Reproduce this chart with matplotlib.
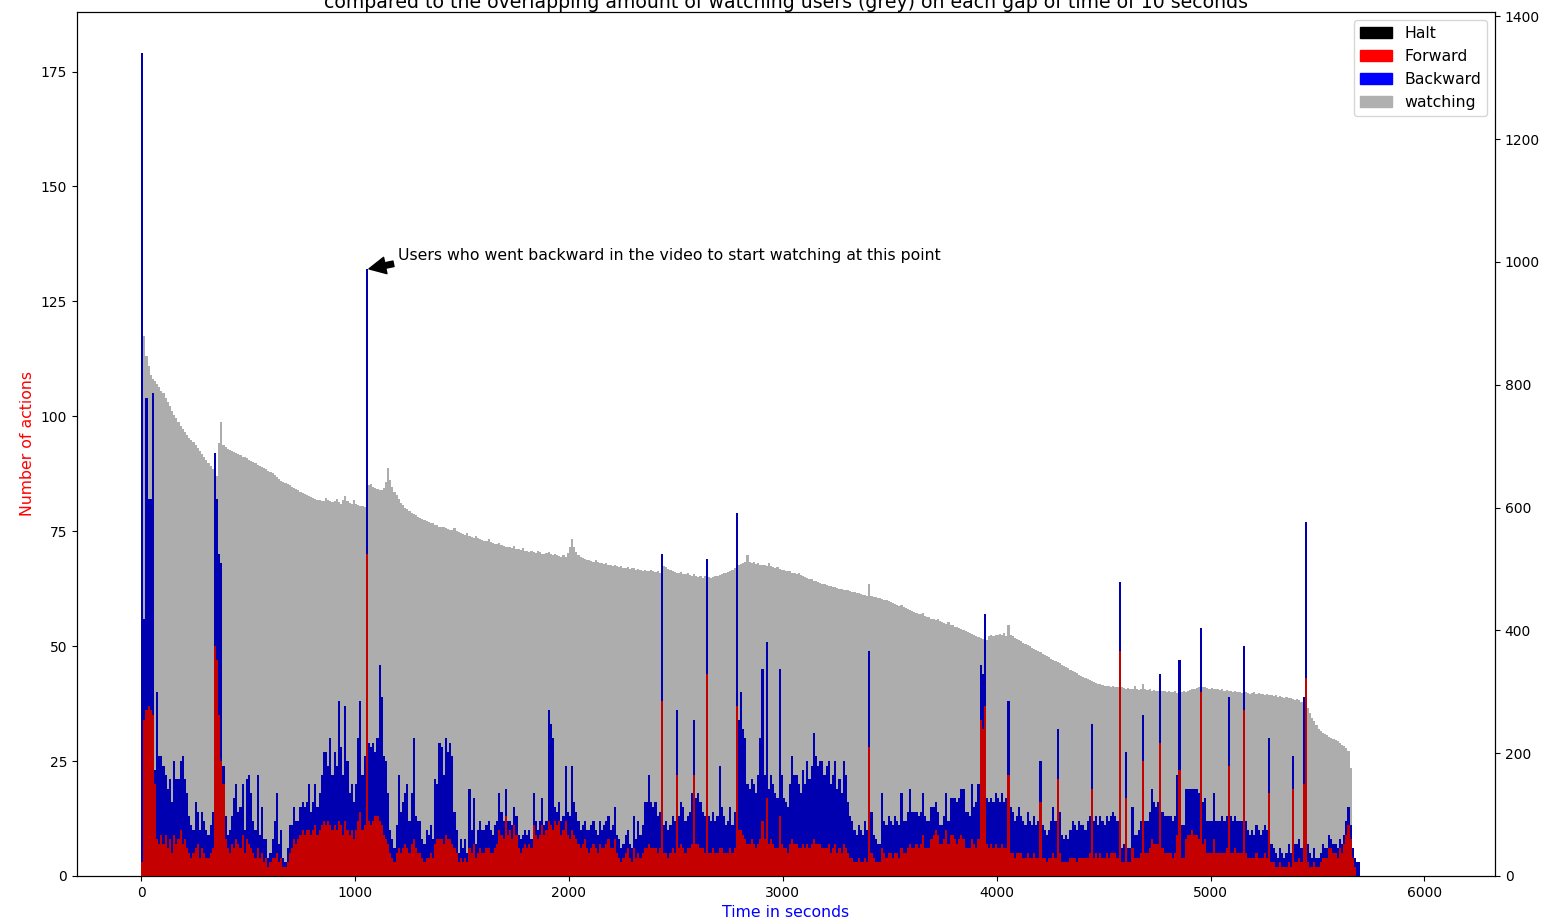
import numpy as np
import matplotlib.pyplot as plt
from matplotlib.patches import Patch

# one bar per 10 seconds of video
bin_width = 10

# forward jumps per 10 s bin (red, bottom of the stack)
forward = [
    3, 34, 36, 37, 36, 35, 20, 8, 7, 9,
    7, 9, 6, 8, 5, 9, 7, 8, 10, 7,
    8, 6, 5, 4, 5, 6, 7, 4, 6, 5,
    4, 4, 5, 6, 50, 47, 35, 25, 20, 8,
    6, 5, 7, 6, 8, 7, 6, 9, 5, 8,
    7, 6, 5, 4, 6, 4, 5, 3, 4, 2,
    3, 4, 4, 5, 3, 4, 2, 2, 3, 5,
    6, 8, 7, 8, 9, 10, 9, 10, 10, 9,
    10, 11, 9, 10, 11, 12, 11, 12, 11, 10,
    11, 10, 12, 11, 9, 12, 10, 9, 10, 8,
    10, 12, 14, 10, 11, 70, 12, 11, 12, 13,
    13, 12, 11, 9, 8, 7, 5, 4, 3, 5,
    6, 5, 6, 7, 6, 5, 7, 8, 6, 5,
    5, 4, 3, 4, 4, 5, 4, 7, 8, 8,
    8, 7, 9, 8, 8, 7, 6, 5, 3, 4,
    3, 4, 3, 6, 5, 7, 4, 5, 6, 5,
    5, 6, 6, 5, 5, 6, 7, 10, 9, 8,
    13, 9, 10, 8, 11, 9, 6, 5, 6, 7,
    6, 7, 6, 11, 9, 8, 9, 11, 9, 10,
    12, 11, 10, 12, 11, 12, 9, 10, 12, 9,
    8, 10, 9, 8, 7, 6, 7, 8, 6, 5,
    6, 7, 6, 5, 7, 6, 6, 7, 8, 6,
    6, 8, 5, 4, 3, 4, 5, 6, 4, 3,
    6, 4, 5, 4, 5, 6, 6, 7, 6, 6,
    6, 5, 6, 38, 5, 5, 4, 5, 6, 5,
    22, 6, 7, 6, 5, 6, 6, 7, 22, 7,
    7, 6, 6, 5, 44, 5, 5, 6, 5, 5,
    6, 6, 5, 5, 5, 6, 5, 6, 37, 10,
    10, 9, 8, 7, 7, 8, 7, 6, 7, 8,
    12, 8, 17, 7, 8, 7, 6, 6, 13, 7,
    6, 6, 5, 7, 8, 7, 7, 6, 6, 7,
    6, 7, 6, 7, 8, 7, 7, 7, 6, 6,
    6, 7, 5, 6, 7, 5, 6, 5, 7, 6,
    5, 4, 4, 3, 3, 4, 3, 3, 4, 3,
    28, 5, 4, 3, 3, 3, 6, 5, 4, 5,
    5, 4, 5, 5, 4, 6, 5, 5, 6, 7,
    6, 6, 7, 6, 7, 9, 6, 6, 6, 8,
    9, 10, 9, 7, 7, 8, 10, 7, 9, 9,
    8, 7, 8, 9, 8, 6, 6, 6, 8, 7,
    6, 8, 34, 32, 37, 7, 6, 7, 6, 7,
    6, 6, 7, 6, 6, 22, 5, 5, 4, 5,
    5, 5, 4, 4, 5, 4, 4, 5, 4, 4,
    16, 4, 4, 3, 4, 4, 5, 4, 21, 5,
    3, 3, 3, 3, 4, 4, 4, 3, 4, 4,
    4, 4, 4, 5, 19, 4, 5, 4, 5, 4,
    4, 5, 4, 5, 5, 5, 4, 49, 3, 3,
    17, 3, 3, 6, 4, 4, 4, 5, 25, 5,
    5, 6, 8, 7, 7, 7, 29, 6, 5, 5,
    5, 5, 4, 5, 9, 23, 4, 4, 8, 9,
    9, 10, 9, 9, 8, 40, 7, 8, 5, 5,
    5, 8, 5, 5, 5, 5, 5, 6, 24, 5,
    5, 6, 5, 5, 5, 36, 5, 4, 4, 4,
    4, 5, 4, 4, 4, 5, 4, 18, 3, 3,
    2, 2, 3, 2, 2, 2, 3, 2, 19, 3,
    3, 4, 3, 20, 43, 3, 2, 2, 3, 2,
    2, 3, 4, 4, 4, 6, 6, 5, 5, 4,
    6, 5, 7, 9, 11, 8, 4, 2, 0, 0,
]

# backward jumps per bin (blue, stacked on forward)
backward = [
    176, 22, 68, 45, 46, 70, 3, 32, 19, 17,
    17, 13, 13, 13, 11, 16, 14, 13, 15, 19,
    13, 12, 8, 7, 5, 10, 7, 6, 8, 7,
    6, 5, 6, 8, 42, 35, 35, 43, 4, 5,
    3, 5, 6, 11, 12, 7, 9, 11, 5, 13,
    15, 12, 7, 6, 16, 5, 10, 5, 4, 2,
    2, 4, 8, 13, 4, 6, 2, 1, 3, 6,
    5, 7, 5, 4, 6, 6, 6, 6, 10, 5,
    6, 9, 6, 8, 11, 15, 16, 12, 19, 12,
    16, 14, 26, 17, 13, 25, 15, 9, 10, 8,
    10, 18, 24, 12, 15, 62, 17, 17, 17, 14,
    17, 34, 28, 17, 17, 11, 5, 4, 3, 6,
    16, 9, 10, 11, 14, 7, 11, 22, 7, 7,
    7, 4, 4, 6, 5, 6, 4, 14, 12, 21,
    20, 15, 21, 19, 21, 19, 8, 5, 2, 4,
    3, 4, 2, 13, 5, 10, 3, 5, 6, 5,
    5, 5, 6, 5, 4, 5, 5, 8, 5, 4,
    6, 3, 2, 3, 4, 4, 3, 3, 3, 3,
    3, 3, 2, 7, 3, 2, 3, 6, 2, 2,
    24, 22, 20, 3, 3, 4, 3, 3, 12, 5,
    5, 14, 7, 6, 5, 4, 4, 4, 4, 5,
    5, 5, 4, 4, 5, 4, 5, 5, 5, 4,
    5, 7, 4, 4, 3, 3, 4, 4, 3, 3,
    7, 4, 7, 5, 6, 10, 10, 15, 10, 9,
    10, 8, 8, 32, 6, 7, 6, 6, 7, 7,
    14, 7, 9, 9, 7, 7, 8, 11, 12, 10,
    11, 10, 8, 8, 25, 8, 7, 8, 7, 8,
    18, 9, 8, 6, 7, 9, 6, 8, 42, 24,
    30, 23, 22, 13, 12, 13, 13, 12, 15, 22,
    33, 14, 34, 12, 14, 13, 12, 11, 32, 15,
    11, 10, 10, 13, 18, 15, 15, 14, 12, 16,
    14, 18, 15, 17, 23, 19, 17, 18, 19, 16,
    18, 18, 15, 16, 18, 14, 15, 13, 18, 16,
    11, 9, 8, 7, 6, 7, 7, 6, 8, 7,
    21, 9, 5, 5, 4, 4, 12, 7, 7, 8,
    7, 7, 8, 7, 7, 12, 7, 7, 8, 12,
    8, 8, 7, 7, 7, 9, 7, 6, 6, 7,
    6, 6, 5, 4, 4, 5, 8, 5, 8, 8,
    9, 9, 9, 10, 11, 8, 8, 7, 12, 8,
    10, 12, 12, 12, 20, 10, 10, 10, 10, 11,
    11, 10, 11, 10, 11, 16, 10, 9, 8, 8,
    10, 8, 8, 7, 9, 8, 7, 8, 7, 8,
    9, 7, 6, 6, 6, 8, 10, 8, 11, 9,
    6, 5, 6, 5, 6, 8, 7, 7, 8, 7,
    7, 6, 8, 8, 14, 8, 8, 7, 8, 8,
    7, 8, 8, 8, 9, 8, 8, 15, 3, 4,
    10, 3, 3, 9, 5, 5, 6, 7, 10, 7,
    7, 8, 11, 9, 8, 9, 15, 8, 8, 8,
    8, 8, 8, 8, 13, 24, 7, 7, 11, 10,
    10, 9, 10, 10, 10, 14, 9, 9, 7, 7,
    7, 10, 7, 7, 7, 8, 7, 7, 15, 8,
    7, 7, 7, 7, 7, 14, 7, 6, 5, 6,
    5, 6, 6, 5, 6, 6, 6, 12, 4, 3,
    3, 2, 3, 3, 2, 3, 4, 3, 7, 4,
    4, 4, 3, 19, 34, 4, 3, 2, 3, 2,
    2, 2, 3, 2, 2, 3, 2, 2, 2, 2,
    2, 2, 2, 3, 4, 3, 2, 2, 3, 3,
]

# users watching each 10 s bin (grey, right axis)
watching = [
    1340, 880, 846, 830, 816, 810, 806, 802, 797, 790,
    786, 779, 772, 765, 758, 751, 745, 739, 733, 728,
    723, 718, 714, 710, 706, 702, 697, 692, 687, 682,
    677, 672, 667, 662, 657, 652, 705, 740, 702, 698,
    696, 694, 692, 690, 688, 687, 685, 683, 682, 680,
    678, 676, 674, 672, 670, 668, 666, 664, 662, 660,
    658, 656, 653, 650, 647, 644, 642, 640, 638, 636,
    634, 632, 630, 628, 626, 624, 622, 620, 619, 617,
    616, 614, 613, 612, 611, 610, 616, 612, 610, 609,
    610, 614, 609, 606, 612, 618, 610, 607, 606, 612,
    606, 604, 603, 602, 601, 600, 636, 638, 634, 632,
    630, 629, 628, 632, 642, 664, 645, 634, 626, 620,
    614, 608, 604, 600, 597, 594, 591, 590, 588, 585,
    583, 582, 580, 578, 577, 575, 574, 572, 571, 569,
    568, 568, 566, 565, 564, 563, 566, 562, 560, 558,
    557, 556, 558, 554, 552, 551, 553, 550, 549, 547,
    546, 545, 548, 544, 542, 541, 540, 542, 539, 537,
    536, 536, 535, 534, 537, 533, 532, 531, 534, 530,
    529, 528, 530, 527, 526, 529, 527, 525, 524, 526,
    528, 525, 523, 524, 522, 521, 520, 523, 519, 526,
    536, 548, 535, 528, 522, 519, 517, 516, 515, 514,
    513, 512, 514, 511, 510, 509, 508, 510, 507, 506,
    505, 506, 504, 503, 505, 502, 501, 503, 500, 502,
    501, 499, 500, 498, 497, 499, 496, 497, 498, 496,
    495, 497, 494, 499, 505, 503, 500, 498, 496, 495,
    494, 493, 495, 492, 491, 493, 490, 489, 491, 488,
    487, 489, 486, 488, 485, 487, 486, 487, 488, 489,
    490, 492, 494, 493, 495, 497, 499, 501, 503, 506,
    508, 510, 511, 522, 512, 509, 511, 508, 509, 506,
    507, 506, 504, 509, 505, 503, 502, 503, 500, 499,
    499, 497, 496, 497, 494, 493, 492, 493, 490, 489,
    487, 486, 484, 483, 481, 480, 478, 477, 476, 475,
    474, 473, 472, 471, 470, 469, 468, 467, 466, 465,
    465, 464, 463, 462, 461, 460, 459, 458, 457, 456,
    476, 456, 455, 454, 453, 452, 451, 450, 449, 447,
    446, 444, 443, 441, 440, 442, 438, 436, 435, 433,
    432, 430, 429, 427, 426, 428, 424, 422, 421, 419,
    418, 417, 419, 415, 414, 412, 411, 413, 409, 408,
    406, 405, 403, 402, 400, 399, 397, 396, 394, 392,
    391, 389, 388, 386, 385, 384, 390, 392, 391, 393,
    392, 394, 393, 395, 391, 408, 392, 390, 388, 386,
    384, 382, 380, 378, 376, 374, 372, 370, 368, 366,
    364, 362, 360, 358, 356, 354, 352, 350, 348, 346,
    344, 342, 340, 338, 336, 334, 332, 330, 328, 326,
    324, 322, 320, 319, 317, 316, 314, 313, 312, 311,
    310, 309, 310, 308, 309, 307, 308, 306, 307, 306,
    305, 306, 304, 305, 310, 304, 303, 305, 312, 304,
    303, 304, 302, 303, 301, 302, 300, 301, 302, 300,
    301, 299, 300, 302, 298, 300, 299, 301, 300, 302,
    303, 304, 305, 306, 307, 306, 308, 307, 306, 305,
    306, 305, 304, 305, 303, 304, 302, 303, 301, 302,
    300, 301, 299, 300, 298, 299, 300, 298, 297, 298,
    299, 297, 298, 296, 297, 295, 296, 294, 295, 293,
    294, 292, 293, 291, 290, 291, 289, 290, 288, 287,
    288, 286, 284, 281, 278, 274, 266, 258, 252, 246,
    240, 236, 233, 231, 229, 227, 225, 223, 221, 219,
    217, 214, 211, 208, 204, 176,
]

time_bins = np.arange(len(forward)) * bin_width
watch_bins = np.arange(len(watching)) * bin_width

fig, ax1 = plt.subplots(figsize=(15.48, 9.24), dpi=100)
fig.subplots_adjust(left=0.0497, right=0.9658, bottom=0.052, top=0.987)
ax2 = ax1.twinx()

# grey watching bars on the right axis
ax2.bar(watch_bins, watching, width=bin_width, align='edge', color='#adadad')

# stacked actions on the left axis; thin bars read darker than the key
ax1.bar(time_bins, forward, width=bin_width, align='edge', color='#c40000')
ax1.bar(time_bins, backward, bottom=forward, width=bin_width, align='edge',
        color='#0000b0')

# keep the actions in front of the grey bars
ax1.set_zorder(ax2.get_zorder() + 1)
ax1.patch.set_visible(False)

ax1.set_xlim(-300, 6330)
ax1.set_xlabel('Time in seconds', color='blue', fontsize=11.3)
ax1.set_ylabel('Number of actions', color='red', fontsize=11.3)
ax1.set_title('compared to the overlapping amount of watching users (grey) '
              'on each gap of time of 10 seconds', fontsize=13.6, pad=2)

ax1.annotate('Users who went backward in the video to start watching at this point',
             xy=(1058, 132), xytext=(1200, 135), va='center', fontsize=11.3,
             arrowprops=dict(facecolor='black', shrink=0.05))

key = [Patch(color='black', label='Halt'),
       Patch(color='red', label='Forward'),
       Patch(color='blue', label='Backward'),
       Patch(color='#b0b0b0', label='watching')]
ax1.legend(handles=key, loc='upper right', fontsize=11.3)

plt.savefig('out.png', dpi=100)
